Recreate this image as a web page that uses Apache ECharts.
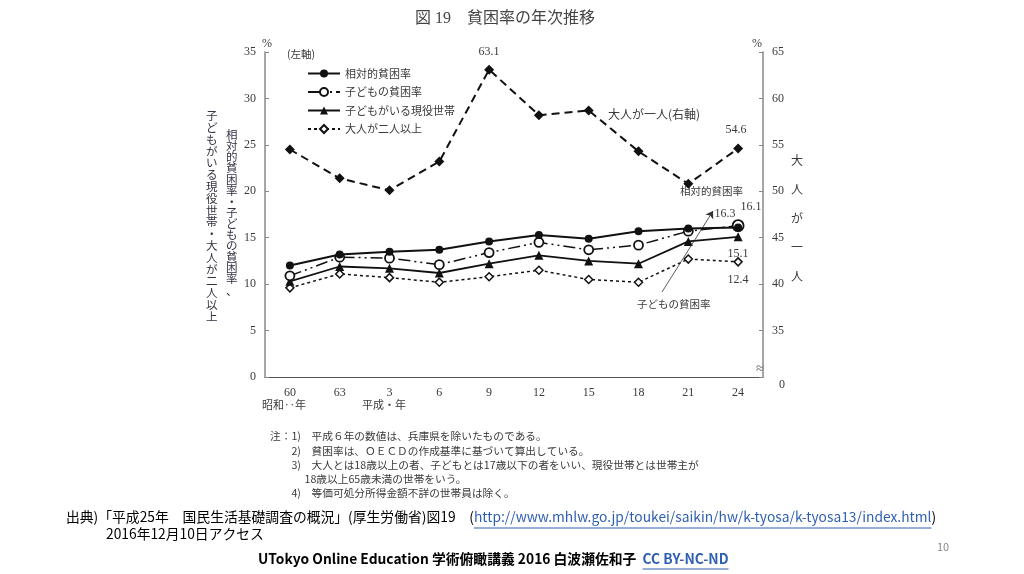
<!DOCTYPE html>
<html><head><meta charset="utf-8">
<style>html,body{margin:0;padding:0;background:#fff}#c{width:1024px;height:574px}</style>
<script src="https://cdn.jsdelivr.net/npm/echarts@6/dist/echarts.min.js"></script>
</head><body><div id="c"></div>
<script>
const categories = ['60','63','3','6','9','12','15','18','21','24'];
const relPoverty = [12.0,13.2,13.5,13.7,14.6,15.3,14.9,15.7,16.0,16.1];
const childPoverty = [10.9,12.9,12.8,12.1,13.4,14.5,13.7,14.2,15.7,16.3];
const workingWithChild = [10.3,11.9,11.7,11.2,12.2,13.1,12.5,12.2,14.6,15.1];
const twoAdults = [9.6,11.1,10.7,10.2,10.8,11.5,10.5,10.2,12.7,12.4];
const oneAdult = [54.5,51.4,50.1,53.2,63.1,58.2,58.7,54.3,50.8,54.6];
const leftTicks = {min:0,max:35,interval:5};
const rightTicks = {min:30,max:65,interval:5};

const SERIF = '"Liberation Serif","Noto Sans CJK JP",serif';
const JP = '"Noto Sans CJK JP",sans-serif';
const TXT = '#3a3a3a';
const BLUE = '#2f5fb3';
const last = categories.length - 1;

function withLabels(arr, labels) {
  return arr.map((v, i) => labels[i] ? {value: v, label: Object.assign({show: true, color: TXT, fontFamily: SERIF, fontSize: 12}, labels[i])} : v);
}
function vertical(s){return s.split('').join('\n');}
const mctx = document.createElement('canvas').getContext('2d');
function tw(text, font){mctx.font = font; return mctx.measureText(text).width;}

const srcFont = '13.8px ' + JP;
const srcPrefix = '出典)「平成25年　国民生活基礎調査の概況」(厚生労働省)図19　(';
const srcUrl = 'http://www.mhlw.go.jp/toukei/saikin/hw/k-tyosa/k-tyosa13/index.html';
const srcX = 66;
const urlX = srcX + tw(srcPrefix, srcFont);
const urlW = tw(srcUrl, srcFont);

const footFont = 'bold 13.8px ' + JP;
const footA = 'UTokyo Online Education 学術俯瞰講義 2016 白波瀬佐和子  ';
const footB = 'CC BY-NC-ND';
const footX = 258;
const ccX = footX + tw(footA, footFont);
const ccW = tw(footB, footFont);

const chart = echarts.init(document.getElementById('c'));
chart.setOption({
  animation: false,
  backgroundColor: '#fff',
  title: {text: '図 19　貧困率の年次推移', left: 410, top: 6,
    textStyle: {fontFamily: SERIF, fontSize: 16, fontWeight: 'normal', color: '#444'}},
  grid: {left: 265, right: 261, top: 52, bottom: 197},
  legend: {
    orient: 'vertical', left: 302, top: 63, itemWidth: 32, itemHeight: 10, itemGap: 7.5,
    textStyle: {fontFamily: JP, fontSize: 11, color: TXT},
    data: ['相対的貧困率','子どもの貧困率','子どもがいる現役世帯','大人が二人以上']
  },
  xAxis: {
    type: 'category', data: categories, boundaryGap: true,
    axisLine: {lineStyle: {color: '#555', width: 1.2}},
    axisTick: {inside: true, length: 4, lineStyle: {color: '#666'}},
    axisLabel: {fontFamily: SERIF, fontSize: 12, color: TXT, margin: 10}
  },
  yAxis: [
    {type: 'value', min: leftTicks.min, max: leftTicks.max, interval: leftTicks.interval,
      splitLine: {show: false},
      axisLine: {show: true, lineStyle: {color: '#888', width: 1.5}},
      axisTick: {show: true, inside: true, length: 4, lineStyle: {color: '#888'}},
      axisLabel: {fontFamily: SERIF, fontSize: 12, color: TXT, margin: 9}},
    {type: 'value', position: 'right', min: rightTicks.min, max: rightTicks.max, interval: rightTicks.interval,
      splitLine: {show: false},
      axisLine: {show: true, lineStyle: {color: '#888', width: 1.5}},
      axisTick: {show: true, inside: true, length: 4, lineStyle: {color: '#888'}},
      axisLabel: {fontFamily: SERIF, fontSize: 12, color: TXT, margin: 9,
        formatter: v => v === rightTicks.min ? '' : String(v)}}
  ],
  series: [
    {name: '相対的貧困率', type: 'line', yAxisIndex: 0,
      data: withLabels(relPoverty, {[last]: {position: 'top', offset: [13, -6]}}),
      symbol: 'circle', symbolSize: 8,
      lineStyle: {color: '#111', width: 2}, itemStyle: {color: '#111'}, z: 5},
    {name: '子どもの貧困率', type: 'line', yAxisIndex: 0,
      data: withLabels(childPoverty, {[last]: {position: 'top', offset: [-13, 6]}}).map((d, i) => i === last ? Object.assign(d, {symbolSize: 11}) : d),
      symbol: 'circle', symbolSize: 9,
      lineStyle: {color: '#111', width: 1.5, type: [12, 4, 2, 4, 2, 4]},
      itemStyle: {color: '#fff', borderColor: '#111', borderWidth: 1.8}, z: 4,
      markLine: {silent: true, symbol: ['none', 'arrow'], symbolSize: 7, label: {show: false},
        lineStyle: {color: '#333', width: 0.8, type: 'solid'},
        data: [[{x: 662, y: 292}, {x: 713, y: 211}]]}},
    {name: '子どもがいる現役世帯', type: 'line', yAxisIndex: 0,
      data: withLabels(workingWithChild, {[last]: {position: 'bottom', offset: [0, 2]}}),
      symbol: 'triangle', symbolSize: 9,
      lineStyle: {color: '#111', width: 1.8}, itemStyle: {color: '#111'}, z: 3},
    {name: '大人が二人以上', type: 'line', yAxisIndex: 0,
      data: withLabels(twoAdults, {[last]: {position: 'bottom', offset: [0, 2]}}),
      symbol: 'diamond', symbolSize: 8,
      lineStyle: {color: '#111', width: 1.5, type: [3, 3]},
      itemStyle: {color: '#fff', borderColor: '#111', borderWidth: 1.5}, z: 2},
    {name: '大人が一人', type: 'line', yAxisIndex: 1,
      data: withLabels(oneAdult, {4: {position: 'top', offset: [0, -2]}, [last]: {position: 'top', offset: [-2, -3]}}),
      symbol: 'diamond', symbolSize: 10,
      lineStyle: {color: '#111', width: 2, type: [8, 5]}, itemStyle: {color: '#111'}, z: 2}
  ],
  graphic: [
    {type: 'text', left: 262, top: 38, style: {text: '%', font: '12px ' + SERIF, fill: TXT}},
    {type: 'text', left: 752, top: 38, style: {text: '%', font: '12px ' + SERIF, fill: TXT}},
    {type: 'text', left: 287, top: 49, style: {text: '(左軸)', font: '10.5px ' + JP, fill: TXT}},
    {type: 'text', left: 608, top: 108, style: {text: '大人が一人(右軸)', font: '12px ' + JP, fill: TXT}},
    {type: 'text', left: 680, top: 186, style: {text: '相対的貧困率', font: '10.5px ' + JP, fill: TXT}},
    {type: 'text', left: 637, top: 299, style: {text: '子どもの貧困率', font: '10.5px ' + JP, fill: TXT}},
    {type: 'text', left: 756, top: 362, style: {text: '≈', font: '15px ' + SERIF, fill: '#666', backgroundColor: '#fff'}},
    {type: 'text', left: 779, top: 379, style: {text: '0', font: '12px ' + SERIF, fill: TXT}},
    {type: 'text', left: 791, top: 146, style: {text: '大\n人\nが\n一\n人', font: '12px ' + JP, fill: TXT, lineHeight: 29}},
    {type: 'text', left: 226, top: 129, style: {text: vertical('相対的貧困率・子どもの貧困率、'), font: '11.5px ' + JP, fill: '#334', lineHeight: 11.1}},
    {type: 'text', left: 206, top: 110, style: {text: vertical('子どもがいる現役世帯・大人が二人以上'), font: '11.5px ' + JP, fill: '#334', lineHeight: 11.8}},
    {type: 'text', left: 262, top: 399, style: {text: '昭和‥年', font: '11px ' + JP, fill: TXT}},
    {type: 'text', left: 362, top: 399, style: {text: '平成・年', font: '11px ' + JP, fill: TXT}},
    {type: 'text', left: 270, top: 429, style: {
      text: '注：1)　平成６年の数値は、兵庫県を除いたものである。\n　　2)　貧困率は、ＯＥＣＤの作成基準に基づいて算出している。\n　　3)　大人とは18歳以上の者、子どもとは17歳以下の者をいい、現役世帯とは世帯主が\n　　　 18歳以上65歳未満の世帯をいう。\n　　4)　等価可処分所得金額不詳の世帯員は除く。',
      font: '10.7px ' + JP, fill: TXT, lineHeight: 14.3}},
    {type: 'text', left: srcX, top: 510, style: {text: srcPrefix, font: srcFont, fill: '#000'}},
    {type: 'text', left: urlX, top: 510, style: {text: srcUrl, font: srcFont, fill: BLUE}},
    {type: 'text', left: urlX + urlW, top: 510, style: {text: ')', font: srcFont, fill: '#000'}},
    {type: 'line', shape: {x1: urlX, y1: 528, x2: urlX + urlW, y2: 528}, style: {stroke: BLUE, lineWidth: 1}},
    {type: 'text', left: 106, top: 527, style: {text: '2016年12月10日アクセス', font: srcFont, fill: '#000'}},
    {type: 'text', left: 937, top: 541, style: {text: '10', font: '11px ' + JP, fill: '#888'}},
    {type: 'text', left: footX, top: 552, style: {text: footA, font: footFont, fill: '#000'}},
    {type: 'text', left: ccX, top: 552, style: {text: footB, font: footFont, fill: BLUE}},
    {type: 'line', shape: {x1: ccX, y1: 569, x2: ccX + ccW, y2: 569}, style: {stroke: BLUE, lineWidth: 1}}
  ]
});
</script></body></html>
